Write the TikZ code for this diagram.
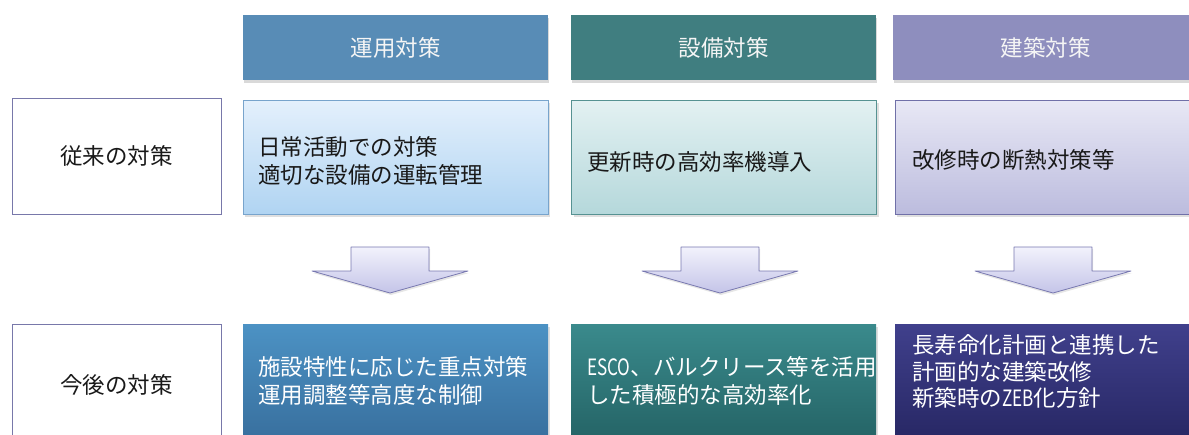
\documentclass[tikz,border=0pt]{standalone}
\usepackage{fontspec}
\setmainfont{Noto Sans CJK JP}
\usetikzlibrary{shadows}
\definecolor{hA}{RGB}{88,140,182}
\definecolor{hB}{RGB}{64,126,128}
\definecolor{hC}{RGB}{142,142,190}
\definecolor{uAt}{RGB}{228,240,252}
\definecolor{uAb}{RGB}{176,212,242}
\definecolor{uAd}{RGB}{120,164,204}
\definecolor{uBt}{RGB}{227,241,242}
\definecolor{uBb}{RGB}{181,216,219}
\definecolor{uBd}{RGB}{86,146,146}
\definecolor{uCt}{RGB}{232,232,245}
\definecolor{uCb}{RGB}{188,188,222}
\definecolor{uCd}{RGB}{112,112,168}
\definecolor{lAt}{RGB}{76,146,196}
\definecolor{lAb}{RGB}{52,104,150}
\definecolor{lBt}{RGB}{58,138,140}
\definecolor{lBb}{RGB}{32,92,94}
\definecolor{lCt}{RGB}{64,64,140}
\definecolor{lCb}{RGB}{34,34,92}
\definecolor{arT}{RGB}{242,242,252}
\definecolor{arB}{RGB}{196,196,232}
\definecolor{arD}{RGB}{120,120,176}
\definecolor{lbl}{RGB}{120,120,170}
\newcommand{\narrowlat}[1]{\scalebox{0.76}[1]{#1}}
\begin{document}
\begin{tikzpicture}[x=1pt,y=-1pt,
  jp/.style={font=\fontsize{22.5}{28}\selectfont},
  hdr/.style={jp, minimum width=305pt, minimum height=65pt, inner sep=0pt, text={rgb,255:red,245;green,245;blue,245},
    drop shadow={opacity=0.3, shadow xshift=1pt, shadow yshift=-3pt}},
  upbox/.style={minimum width=305pt, minimum height=114pt, inner sep=0pt, line width=1pt,
    drop shadow={opacity=0.25, shadow xshift=2pt, shadow yshift=-3pt}},
  lowbox/.style={minimum width=305pt, minimum height=140pt, inner sep=0pt,
    drop shadow={opacity=0.25, shadow xshift=2pt, shadow yshift=-3pt}},
  lblbox/.style={jp, draw=lbl, line width=1pt, minimum width=209pt, minimum height=116pt, inner sep=0pt, text=black!90},
  btext/.style={jp, anchor=west, align=left, inner sep=0pt},
  bigarrow/.style={draw=arD, line width=0.8pt, top color=arT, bottom color=arB, line join=round,
    drop shadow={opacity=0.2, shadow xshift=1pt, shadow yshift=-2pt}}
]
\useasboundingbox (0,0) rectangle (1189,434);
\clip (0,0) rectangle (1189,434);

% row labels
\node[lblbox] (lab1) at (116.5,156) {従来の対策};
\node[lblbox, minimum height=140pt] (lab2box) at (116.5,394) {};
\node[jp, text=black!90] (lab2) at (116.5,385) {今後の対策};

% headers
\node[hdr, fill=hA] (h1) at (395.5,47.5) {運用対策};
\node[hdr, fill=hB] (h2) at (723.5,47.5) {設備対策};
\node[hdr, fill=hC] (h3) at (1045.5,47.5) {建築対策};

% upper boxes
\node[upbox, draw=uAd, top color=uAt, bottom color=uAb] (u1) at (395.5,157) {};
\node[upbox, draw=uBd, top color=uBt, bottom color=uBb] (u2) at (724,157) {};
\node[upbox, draw=uCd, top color=uCt, bottom color=uCb] (u3) at (1047.5,157) {};
\node[btext, text=black!90] (t1) at (258,161) {日常活動での対策\\適切な設備の運転管理};
\node[btext, text=black!90] (t2) at (587,162) {更新時の高効率機導入};
\node[btext, text=black!90] (t3) at (912,160) {改修時の断熱対策等};

% arrows
\coordinate (a1) at (390,247);
\coordinate (a2) at (720,247);
\coordinate (a3) at (1053,247);
\foreach \a in {a1,a2,a3}{
  \path[bigarrow] ([xshift=-39pt]\a) -- ([xshift=39pt]\a) -- ([xshift=39pt,yshift=-24pt]\a)
    -- ([xshift=78pt,yshift=-24pt]\a) -- ([yshift=-46pt]\a) -- ([xshift=-78pt,yshift=-24pt]\a)
    -- ([xshift=-39pt,yshift=-24pt]\a) -- cycle;
}

% lower boxes
\node[lowbox, top color=lAt, bottom color=lAb] (l1) at (395.5,394) {};
\node[lowbox, top color=lBt, bottom color=lBb] (l2) at (723.5,394) {};
\node[lowbox, top color=lCt, bottom color=lCb] (l3) at (1047.5,394) {};
\node[btext, text=white] (s1) at (258,381) {施設特性に応じた重点対策\\運用調整等高度な制御};
\node[btext, text=white] (s2) at (587,381) {\narrowlat{ESCO}、バルクリース等を活用\\した積極的な高効率化};
\node[btext, text=white, font=\fontsize{22.5}{26.5}\selectfont] (s3) at (912,371.5) {長寿命化計画と連携した\\計画的な建築改修\\新築時の\narrowlat{ZEB}化方針};
\end{tikzpicture}
\end{document}
